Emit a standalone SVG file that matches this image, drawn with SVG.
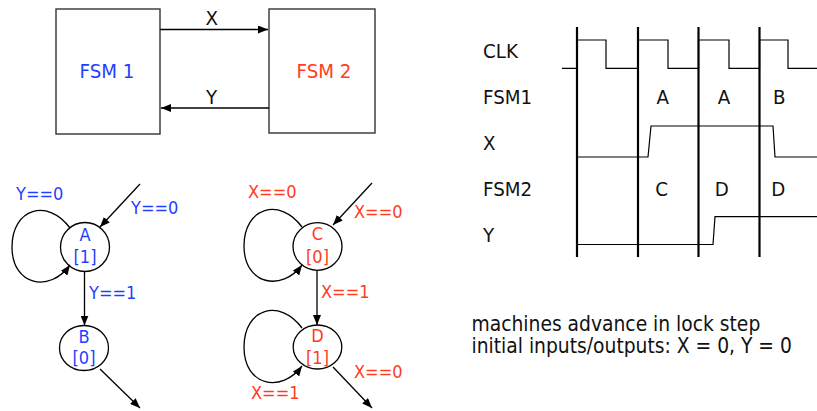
<svg xmlns="http://www.w3.org/2000/svg" width="817" height="411" viewBox="0 0 817 411">
<style>
text{font-family:"DejaVu Sans Condensed","DejaVu Sans",sans-serif;font-stretch:condensed}
.big{font-size:20.3px}
.note{font-size:20.8px}
.st{font-size:18px}
.blue{fill:#1f3fff}
.red{fill:#ff3c1e}
.blk{fill:#111}
.box{fill:#fff;stroke:#333;stroke-width:1.4}
.arr{fill:none;stroke:#000;stroke-width:1.3;marker-end:url(#ah)}
.node{fill:#fff;stroke:#000;stroke-width:1.3}
.clk{fill:none;stroke:#000;stroke-width:2.2}
.sig{fill:none;stroke:#000;stroke-width:1.2}
</style>
<defs>
<marker id="ah" markerUnits="userSpaceOnUse" markerWidth="10" markerHeight="8" refX="10" refY="4" orient="auto">
<path d="M0,0 L10,4 L0,8 z" fill="#000"/>
</marker>
</defs>

<g id="fsm1-box">
<rect class="box" x="56" y="9" width="104" height="125"/>
<text class="big blue" x="107" y="78" text-anchor="middle">FSM 1</text>
</g>
<g id="fsm2-box">
<rect class="box" x="269" y="9" width="106" height="124"/>
<text class="big red" x="324" y="78" text-anchor="middle">FSM 2</text>
</g>

<g id="state-A">
<circle class="node" cx="85" cy="247" r="24.5"/>
<text class="st blue" x="85" y="241" text-anchor="middle">A</text>
<text class="st blue" x="85" y="263" text-anchor="middle">[1]</text>
</g>
<g id="state-B">
<ellipse class="node" cx="84" cy="348" rx="24.5" ry="22.5"/>
<text class="st blue" x="84" y="343" text-anchor="middle">B</text>
<text class="st blue" x="84" y="364" text-anchor="middle">[0]</text>
</g>
<g id="state-C">
<ellipse class="node" cx="317.5" cy="246.5" rx="24.5" ry="23.8"/>
<text class="st red" x="317.5" y="240" text-anchor="middle">C</text>
<text class="st red" x="317.5" y="263" text-anchor="middle">[0]</text>
</g>
<g id="state-D">
<ellipse class="node" cx="317.5" cy="347" rx="24.3" ry="22"/>
<text class="st red" x="317.5" y="342" text-anchor="middle">D</text>
<text class="st red" x="317.5" y="363.5" text-anchor="middle">[1]</text>
</g>

<g id="connectors">
<line class="arr" x1="160" y1="29.5" x2="268" y2="29.5"/>
<line class="arr" x1="269" y1="108" x2="161" y2="108"/>
<path class="arr" d="M 70,228 C 48,198 12,208 12,247 C 12,286 50,293 70,265"/>
<line class="arr" x1="140" y1="184" x2="100" y2="227"/>
<line class="arr" x1="84.5" y1="272" x2="84.5" y2="325.5"/>
<line class="arr" x1="100" y1="369" x2="140" y2="408"/>
<path class="arr" d="M 302,227 C 280,197 244,207 244,246 C 244,285 282,292 302,265"/>
<line class="arr" x1="372" y1="183" x2="333" y2="225"/>
<line class="arr" x1="317" y1="270.5" x2="317" y2="325"/>
<path class="arr" d="M 302,328 C 280,298 244,308 244,347 C 244,387 282,393 302,366"/>
<line class="arr" x1="333" y1="367" x2="372" y2="408"/>
</g>

<g id="labels">
<text class="big blk" x="211.8" y="25" text-anchor="middle">X</text>
<text class="big blk" x="211.5" y="104" text-anchor="middle">Y</text>
<text class="st blue" x="16" y="200">Y==0</text>
<text class="st blue" x="131" y="214">Y==0</text>
<text class="st blue" x="89" y="299">Y==1</text>
<text class="st red" x="248" y="198">X==0</text>
<text class="st red" x="354" y="218">X==0</text>
<text class="st red" x="321" y="298">X==1</text>
<text class="st red" x="354" y="378">X==0</text>
<text class="st red" x="251" y="399">X==1</text>
</g>

<g id="timing">
<line class="clk" x1="577" y1="27" x2="577" y2="257"/>
<line class="clk" x1="638" y1="27" x2="638" y2="257"/>
<line class="clk" x1="698.5" y1="27" x2="698.5" y2="257"/>
<line class="clk" x1="759.5" y1="27" x2="759.5" y2="257"/>
<polyline class="sig" points="562,68.3 577,68.3 577,40 606,40 606,68.3 638,68.3 638,40 668,40 668,68.3 698.5,68.3 698.5,40 729,40 729,68.3 759.5,68.3 759.5,40 788,40 788,68.3 817,68.3"/>
<polyline class="sig" points="577,157 648,157 651,126 773,126 775,157 817,157"/>
<polyline class="sig" points="577,244.5 713,244.5 715,216.7 817,216.7"/>
<text class="big blk" x="483" y="58">CLK</text>
<text class="big blk" x="483" y="104">FSM1</text>
<text class="big blk" x="483" y="150">X</text>
<text class="big blk" x="483" y="196">FSM2</text>
<text class="big blk" x="483" y="242">Y</text>
<text class="big blk" x="662.7" y="104" text-anchor="middle">A</text>
<text class="big blk" x="724" y="104" text-anchor="middle">A</text>
<text class="big blk" x="779.3" y="104" text-anchor="middle">B</text>
<text class="big blk" x="661.7" y="196" text-anchor="middle">C</text>
<text class="big blk" x="721.7" y="196" text-anchor="middle">D</text>
<text class="big blk" x="778.3" y="196" text-anchor="middle">D</text>
</g>

<g id="notes">
<text class="note blk" x="471.5" y="331">machines advance in lock step</text>
<text class="note blk" x="471.5" y="353">initial inputs/outputs: X = 0, Y = 0</text>
</g>
</svg>
